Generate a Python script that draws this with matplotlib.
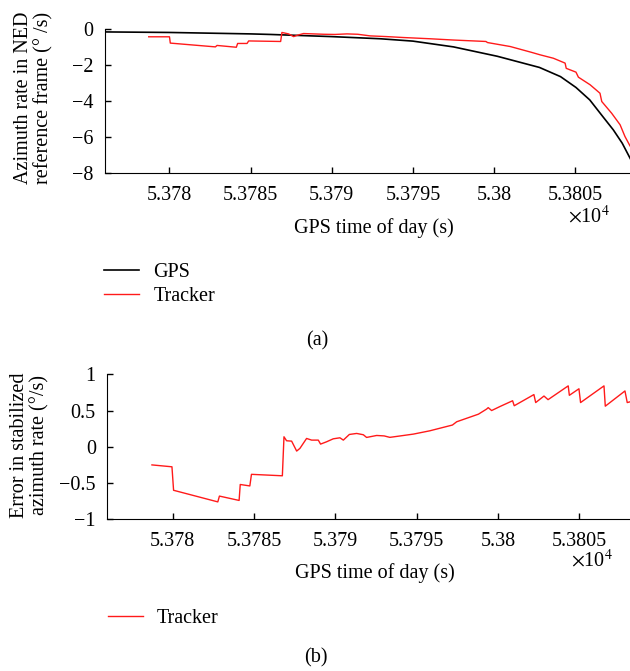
import matplotlib
matplotlib.use('Agg')
import matplotlib.pyplot as plt

plt.rcParams['font.family'] = ['Liberation Serif', 'DejaVu Serif']
plt.rcParams['font.size'] = 14.5
plt.rcParams['mathtext.fontset'] = 'stix'

# GPS azimuth rate (deg/s) vs GPS time of day (s)
t_gps = [53776.0, 53780.0, 53785.0, 53786.2, 53790.0, 53793.0, 53795.0,
         53797.5, 53800.2, 53802.8, 53804.1, 53805.05, 53805.9, 53806.7,
         53807.35, 53807.9, 53808.4]
v_gps = [-0.17, -0.20, -0.28, -0.31, -0.43, -0.55, -0.68,
         -1.0, -1.52, -2.14, -2.65, -3.25, -3.94, -4.86,
         -5.6, -6.34, -7.2]

# tracker azimuth rate
t_trk = [53778.72, 53780.0, 53780.05, 53782.83, 53782.93, 53784.12, 53784.2,
         53784.78, 53784.88, 53786.85, 53786.93, 53787.34, 53787.65, 53787.9,
         53788.26, 53789.5, 53790.2, 53790.94, 53791.6, 53792.37, 53793.4,
         53794.4, 53796.07, 53797.5, 53799.5, 53799.6, 53801.0, 53802.3,
         53802.84, 53803.66, 53804.38, 53804.45, 53805.05, 53805.2, 53805.92,
         53806.53, 53806.64, 53807.25, 53807.77, 53808.07, 53808.38]
v_trk = [-0.44, -0.44, -0.79, -1.0, -0.92, -1.02, -0.81,
         -0.81, -0.67, -0.70, -0.20, -0.28, -0.43, -0.35,
         -0.26, -0.30, -0.31, -0.28, -0.30, -0.39, -0.43,
         -0.48, -0.55, -0.62, -0.70, -0.76, -0.98, -1.3,
         -1.44, -1.63, -1.9, -2.19, -2.4, -2.68, -3.1,
         -3.57, -4.03, -4.68, -5.32, -5.97, -6.49]

# error in stabilized azimuth rate
t_err = [53778.72, 53779.95, 53780.05, 53782.77, 53782.87, 53784.08, 53784.15,
         53784.74, 53784.84, 53786.74, 53786.84, 53787.0, 53787.31, 53787.62,
         53787.82, 53788.23, 53788.54, 53788.95, 53789.09, 53789.46, 53789.87,
         53790.28, 53790.49, 53790.86, 53791.31, 53791.72, 53791.92, 53792.54,
         53793.0, 53793.35, 53794.0, 53794.8, 53795.8, 53796.85, 53797.2,
         53797.46, 53798.8, 53799.3, 53799.4, 53799.61, 53800.12, 53800.9,
         53801.0, 53802.21, 53802.32, 53802.83, 53803.08, 53804.32, 53804.39,
         53804.98, 53805.08, 53806.52, 53806.6, 53807.81, 53807.95, 53808.12]
v_err = [-0.25, -0.276, -0.60, -0.76, -0.68, -0.74, -0.52,
         -0.54, -0.38, -0.40, 0.138, 0.083, 0.078, -0.059,
         -0.022, 0.115, 0.092, 0.092, 0.037, 0.069, 0.11,
         0.124, 0.092, 0.17, 0.184, 0.166, 0.129, 0.156,
         0.15, 0.13, 0.15, 0.175, 0.22, 0.28, 0.30,
         0.345, 0.45, 0.52, 0.54, 0.50, 0.555, 0.635,
         0.566, 0.72, 0.61, 0.70, 0.65, 0.84, 0.71,
         0.80, 0.61, 0.84, 0.56, 0.77, 0.61, 0.62]

x_ticks = [53780, 53785, 53790, 53795, 53800, 53805]
x_ticklabels = ['5.378', '5.3785', '5.379', '5.3795', '5.38', '5.3805']


def style_axes(ax, xpad):
    ax.spines['top'].set_visible(False)
    ax.spines['right'].set_visible(False)
    ax.tick_params(direction='in', length=4, width=1)
    ax.tick_params(axis='y', pad=8)
    ax.tick_params(axis='x', pad=xpad)
    ax.set_xticks(x_ticks)
    ax.set_xticklabels(x_ticklabels)


fig = plt.figure(figsize=(6.3, 6.71), dpi=100)

ax1 = fig.add_axes([0.166, 0.742, 0.834, 0.215])
l_gps, = ax1.plot(t_gps, v_gps, color='black', linewidth=1.2, label='GPS')
l_trk, = ax1.plot(t_trk, v_trk, color='#ff1a1a', linewidth=1.0, label='Tracker')
ax1.set_xlim(53776.0, 53808.38)
ax1.set_ylim(-8, 0)
ax1.set_yticks([0, -2, -4, -6, -8])
style_axes(ax1, 9.5)
ax1.set_ylabel('Azimuth rate in NED\nreference frame (° /s)', linespacing=1.05)
ax1.yaxis.set_label_coords(-0.098, 0.52)
ax1.set_xlabel('GPS time of day (s)')
ax1.xaxis.set_label_coords(0.513, -0.315)
ax1.text(0.962, -0.303, r'$\times$10$^4$', transform=ax1.transAxes,
         ha='right', va='center')
fig.legend([l_gps, l_trk], ['GPS', 'Tracker'], loc='upper left',
           bbox_to_anchor=(0.165, 0.608), frameon=False, borderpad=0,
           borderaxespad=0, handlelength=1.75, handletextpad=0.7,
           labelspacing=0.25)
fig.text(0.503, 0.492, '(a)', ha='center', va='center')

ax2 = fig.add_axes([0.1697, 0.2261, 0.8303, 0.2161])
l_err, = ax2.plot(t_err, v_err, color='#ff1a1a', linewidth=1.0, label='Tracker')
ax2.set_xlim(53775.95, 53808.12)
ax2.set_ylim(-1, 1)
ax2.set_yticks([1, 0.5, 0, -0.5, -1])
ax2.set_yticklabels(['1', '0.5', '0', '\u22120.5', '\u22121'])
style_axes(ax2, 9.5)
ax2.set_ylabel('Error in stabilized\nazimuth rate (°/s)', linespacing=1.05)
ax2.yaxis.set_label_coords(-0.11, 0.51)
ax2.set_xlabel('GPS time of day (s)')
ax2.xaxis.set_label_coords(0.513, -0.3)
ax2.text(0.967, -0.285, r'$\times$10$^4$', transform=ax2.transAxes,
         ha='right', va='center')
fig.legend([l_err], ['Tracker'], loc='upper left',
           bbox_to_anchor=(0.171, 0.0925), frameon=False, borderpad=0,
           borderaxespad=0, handlelength=1.75, handletextpad=0.7)
fig.text(0.502, 0.0195, '(b)', ha='center', va='center')

fig.savefig('out.png', dpi=100)
plt.close(fig)
